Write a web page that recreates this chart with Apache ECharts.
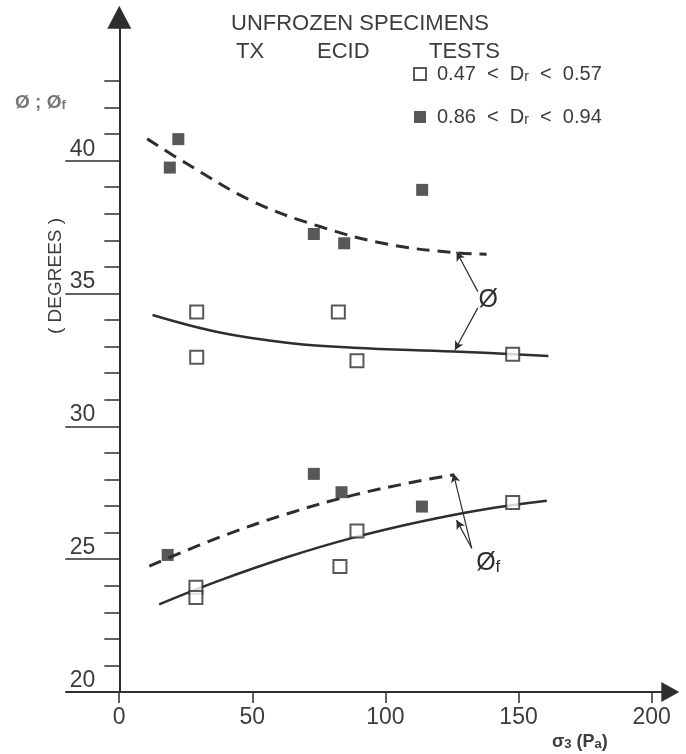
<!DOCTYPE html>
<html>
<head>
<meta charset="utf-8">
<script src="https://cdn.jsdelivr.net/npm/echarts@6/dist/echarts.min.js"></script>
<style>
  html, body { margin: 0; padding: 0; background: #fff; }
  #chart { width: 686px; height: 754px; }
</style>
</head>
<body>
<div id="chart"></div>
<script>
// axis ticks
const xTicks = [0, 50, 100, 150, 200];
const yShortTicks = [21, 22, 23, 24, 26, 27, 28, 29, 31, 32, 33, 34, 36, 37, 38, 39, 41, 42, 43];
const yLongTicks = [25, 30, 35, 40];
const yLabels = [20, 25, 30, 35, 40];

// measured points, [sigma3, angle]
const looseNames = ["0.47 < Dr < 0.57"];
const denseNames = ["0.86 < Dr < 0.94"];
const loosePoints = [
    [29.1, 34.30], [82.3, 34.30], [29.1, 32.60], [89.3, 32.47], [147.8, 32.71],
    [89.3, 26.06], [82.9, 24.72], [147.8, 27.13], [28.8, 23.94], [28.8, 23.56],
];
const densePoints = [
    [22.2, 40.81], [19.0, 39.74], [113.8, 38.90], [73.1, 37.24], [84.5, 36.89],
    [73.1, 28.21], [83.5, 27.52], [113.7, 26.98], [18.2, 25.16],
];

// fitted curves as drawn
const densePhi = [[10.5, 40.82], [25.3, 39.89], [50.3, 38.46], [75.4, 37.52], [100.5, 36.86], [125.5, 36.54], [138.0, 36.48]];
const loosePhi = [[12.5, 34.19], [37.8, 33.53], [62.9, 33.15], [87.9, 32.96], [125.5, 32.82], [161.2, 32.65]];
const densePhiF = [[11.3, 24.74], [37.8, 25.83], [62.9, 26.70], [87.9, 27.41], [113.0, 27.95], [125.5, 28.17]];
const loosePhiF = [[15.0, 23.30], [37.8, 24.20], [62.9, 25.07], [87.9, 25.81], [113.0, 26.41], [138.0, 26.89], [160.6, 27.20]];

// callouts: label spot and arrows (from, to)
const phiLabel = [138.6, 34.76];
const phiArrows = [[[134.7, 35.07], [126.7, 36.57]], [[134.7, 34.46], [126.1, 32.87]]];
const phiFLabel = [138.6, 24.85];
const phiFArrows = [[[132.4, 25.41], [125.5, 28.23]], [[132.4, 25.41], [126.7, 26.47]]];

const ink = "#2e2e2e";
const textInk = "#3c3c3c";
const font = "Liberation Sans";

const chart = echarts.init(document.getElementById("chart"));

function arrowLines(list) {
    return list.map(([a, b]) => [{ coord: a }, { coord: b }]);
}

function callout(spot, text) {
    return {
        symbol: "circle",
        symbolSize: 0,
        silent: true,
        label: { show: true, position: "inside", color: ink },
        data: [{
            coord: spot,
            label: {
                formatter: text,
                rich: {
                    m: { fontSize: 25, fontFamily: font, color: ink, lineHeight: 25, verticalAlign: "top", padding: [0, 0, 9, 0] },
                    s: { fontSize: 17, fontFamily: font, color: ink, lineHeight: 17, verticalAlign: "bottom" },
                },
            },
        }],
    };
}

const arrowStyle = {
    silent: true,
    symbol: ["none", "arrow"],
    symbolSize: [7, 9],
    label: { show: false },
    lineStyle: { type: "solid", width: 1.2, color: ink },
};

const legendRich = {
    m: { fontSize: 20, fontFamily: font, color: textInk, lineHeight: 20, verticalAlign: "top", padding: [0, 0, 6, 0] },
    s: { fontSize: 14, fontFamily: font, color: textInk, lineHeight: 14, verticalAlign: "bottom" },
};

const nameRich = {
    m: { fontSize: 18, fontFamily: font, color: textInk, lineHeight: 18, verticalAlign: "top", padding: [0, 0, 6, 0] },
    s: { fontSize: 13, fontFamily: font, color: textInk, lineHeight: 13, verticalAlign: "bottom" },
};

const titleStyle = { fontFamily: font, fontSize: 22, fontWeight: "normal", color: textInk };

const option = {
    backgroundColor: "#fff",
    animation: false,
    title: [
        { text: "UNFROZEN SPECIMENS", left: 226, top: 8, textStyle: titleStyle },
        { text: "TX", left: 231, top: 36, textStyle: titleStyle },
        { text: "ECID", left: 312, top: 36, textStyle: titleStyle },
        { text: "TESTS", left: 424, top: 36, textStyle: titleStyle },
        {
            text: "{m|Ø ; Ø}{s|f}", left: 10, top: 88,
            textStyle: {
                rich: {
                    m: { fontSize: 19, fontFamily: font, color: "#777", lineHeight: 19, verticalAlign: "top", padding: [0, 0, 6, 0] },
                    s: { fontSize: 13, fontFamily: font, color: "#777", lineHeight: 13, verticalAlign: "bottom" },
                },
            },
        },
        {
            text: "{m|σ}{s|3}{m| (P}{s|a}{m|)}", left: 547, top: 728,
            textStyle: { rich: nameRich },
        },
    ],
    graphic: [{
        type: "text",
        x: 46,
        y: 334,
        rotation: Math.PI / 2,
        style: { text: "( DEGREES )", fontFamily: font, fontSize: 19, fill: textInk },
    }],
    legend: {
        orient: "vertical",
        left: 408,
        top: 59,
        itemGap: 17,
        itemWidth: 12,
        itemHeight: 12,
        data: [looseNames[0], denseNames[0]],
        formatter: (name) => "{m|" + name.replace(/ < /g, "  <  ").replace("Dr", "D}{s|r}{m|") + "}",
        textStyle: { rich: legendRich, padding: [0, 0, 0, 6] },
    },
    grid: { left: 66, right: 15.7, top: 17.2, bottom: 62 },
    xAxis: {
        type: "value",
        min: -20,
        max: 207,
        splitLine: { show: false },
        axisLine: { onZero: false, symbol: ["none", "triangle"], symbolSize: [20, 18], lineStyle: { color: ink, width: 2 } },
        axisTick: { customValues: xTicks, length: 11, lineStyle: { color: ink, width: 1.5 } },
        axisLabel: { customValues: xTicks, margin: 14, fontFamily: font, fontSize: 23, color: textInk },
    },
    yAxis: [
        {
            type: "value",
            min: 20,
            max: 45.4,
            position: "left",
            offset: -53.3,
            splitLine: { show: false },
            axisLine: { show: true, onZero: false, symbol: ["none", "triangle"], symbolSize: [24, 23], lineStyle: { color: ink, width: 2 } },
            axisTick: { customValues: yShortTicks, length: 15, lineStyle: { color: ink, width: 1.5 } },
            axisLabel: { show: false },
        },
        {
            type: "value",
            min: 20,
            max: 45.4,
            position: "left",
            offset: -53.3,
            splitLine: { show: false },
            axisLine: { show: false, onZero: false },
            axisTick: { show: true, customValues: yLongTicks, length: 54, lineStyle: { color: ink, width: 1.5 } },
            axisLabel: { customValues: yLabels, margin: 24, verticalAlign: "bottom", fontFamily: font, fontSize: 23, color: textInk },
        },
    ],
    series: [
        {
            name: denseNames[0] + " phi",
            type: "line",
            data: densePhi,
            smooth: 0.4,
            showSymbol: false,
            silent: true,
            lineStyle: { color: ink, width: 3, type: [13, 8] },
        },
        {
            name: looseNames[0] + " phi",
            type: "line",
            data: loosePhi,
            smooth: 0.4,
            showSymbol: false,
            silent: true,
            lineStyle: { color: ink, width: 2.5 },
            markLine: Object.assign({ data: arrowLines(phiArrows) }, arrowStyle),
            markPoint: callout(phiLabel, "{m|Ø}"),
        },
        {
            name: denseNames[0] + " phiF",
            type: "line",
            data: densePhiF,
            smooth: 0.4,
            showSymbol: false,
            silent: true,
            lineStyle: { color: ink, width: 3, type: [13, 8] },
        },
        {
            name: looseNames[0] + " phiF",
            type: "line",
            data: loosePhiF,
            smooth: 0.4,
            showSymbol: false,
            silent: true,
            lineStyle: { color: ink, width: 2.5 },
            markLine: Object.assign({ data: arrowLines(phiFArrows) }, arrowStyle),
            markPoint: callout(phiFLabel, "{m|Ø}{s|f}"),
        },
        {
            name: looseNames[0],
            type: "scatter",
            data: loosePoints,
            symbol: "rect",
            symbolSize: 13,
            z: 5,
            itemStyle: { color: "#fff", borderColor: ink, borderWidth: 2 },
        },
        {
            name: denseNames[0],
            type: "scatter",
            data: densePoints,
            symbol: "rect",
            symbolSize: 12,
            z: 5,
            itemStyle: { color: ink },
        },
    ],
};

chart.setOption(option);
window.addEventListener("resize", () => chart.resize());
</script>
</body>
</html>
